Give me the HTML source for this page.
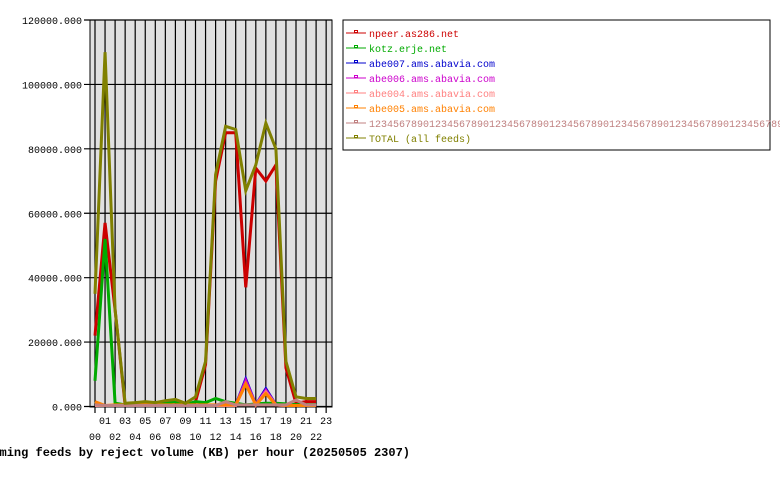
<!DOCTYPE html>
<html><head><meta charset="utf-8"><style>
body{margin:0;background:#fff;width:780px;height:480px;overflow:hidden}
svg text{font-family:"Liberation Mono",monospace}
</style></head><body>
<svg width="780" height="480" xmlns="http://www.w3.org/2000/svg">
<rect x="90" y="20" width="242" height="387" fill="#e0e0e0" stroke="#000"/>
<g id="grid"></g><g id="series"></g><g id="axes"></g>
<rect x="343" y="20" width="427" height="130" fill="#fff" stroke="#000"/>
<g id="legend"></g>
<text x="410" y="456" text-anchor="end" font-size="12" font-weight="bold">Incoming feeds by reject volume (KB) per hour (20250505 2307)</text>
</svg>
<script>
const hours=["00","01","02","03","04","05","06","07","08","09","10","11","12","13","14","15","16","17","18","19","20","21","22","23"];
const yTicks=[0,20000,40000,60000,80000,100000,120000];
const seriesNames=["npeer.as286.net","kotz.erje.net","abe007.ams.abavia.com","abe006.ams.abavia.com","abe004.ams.abavia.com","abe005.ams.abavia.com","1234567890123456789012345678901234567890123456789012345678901234567890123.de","TOTAL (all feeds)"];
const seriesColors=["#cc0000","#00aa00","#0000cc","#cc00cc","#ff8080","#ff8000","#c08080","#808000"];
const npeer=[22000,57000,30000,300,300,300,300,500,500,300,1500,13000,70000,85000,85000,37000,74000,70000,75000,12000,1000,1500,1500];
const kotz=[8000,52000,1000,500,800,1000,800,1200,1500,600,1500,1200,2500,1500,1000,500,800,1000,1000,800,600,600,600];
const abe007=[300,300,300,300,300,300,300,300,500,300,300,300,300,300,300,8500,500,5500,500,300,300,300,300];
const abe006=[300,300,300,300,300,300,300,300,300,300,300,300,300,300,300,8000,500,5000,500,300,300,300,300];
const abe004=[300,300,300,300,300,300,300,300,300,300,300,300,300,300,300,7000,500,4500,500,300,300,300,300];
const abe005=[1500,300,500,500,500,600,500,500,500,500,500,500,500,500,500,7000,500,4000,500,300,300,300,300];
const longfeed=[500,300,300,300,300,300,300,300,300,300,300,300,300,1500,500,500,500,500,500,500,2000,500,500];
const total=[35000,110000,30000,1000,1200,1500,1200,1800,2200,1000,3000,14000,72000,87000,86000,67000,75000,88000,80000,14000,3000,2500,2500];
const seriesData=[npeer,kotz,abe007,abe006,abe004,abe005,longfeed,total];
const NS="http://www.w3.org/2000/svg";
const xs=i=>95+i*10.05, ys=v=>406.5-v*(386.5/120000);
function mk(t,a,p){const e=document.createElementNS(NS,t);for(const k in a)e.setAttribute(k,a[k]);p.appendChild(e);return e;}
const grid=document.getElementById('grid'),axes=document.getElementById('axes');
hours.forEach((h,i)=>{
 const l=mk('line',{x1:xs(i),x2:xs(i),y1:20,y2:413,stroke:'#000','stroke-width':1.2},grid);
 
 
 const t=mk('text',{x:xs(i),y:i%2?424:440,'text-anchor':'middle','font-size':10},axes);
 t.textContent=h;
 
 
});
yTicks.forEach(v=>{
 const l=mk('line',{x1:84,x2:332,y1:ys(v),y2:ys(v),stroke:'#000','stroke-width':1.2},grid);
 
 
 const t=mk('text',{x:82,y:ys(v)+4,'text-anchor':'end','font-size':10},axes);
 t.textContent=v.toFixed(3);
 
 
});
const sg=document.getElementById('series'),lg=document.getElementById('legend');
seriesData.forEach((d,s)=>{
 const p=mk('polyline',{points:d.map((v,i)=>xs(i)+','+ys(v)).join(' '),fill:'none',stroke:seriesColors[s],'stroke-width':3,'stroke-linejoin':'miter'},sg);
 
 
 const y=33+s*15;
 const g=mk('g',{},lg);
 
 
 mk('line',{x1:346,x2:366,y1:y,y2:y,stroke:seriesColors[s],'stroke-width':1},g);
 mk('rect',{x:354.5,y:y-2.5,width:3,height:2,fill:'#fff',stroke:seriesColors[s],'stroke-width':1},g);
 const t=mk('text',{x:369,y:y+4,'font-size':10,fill:seriesColors[s]},g);
 t.textContent=seriesNames[s];
});
</script>
</body></html>
